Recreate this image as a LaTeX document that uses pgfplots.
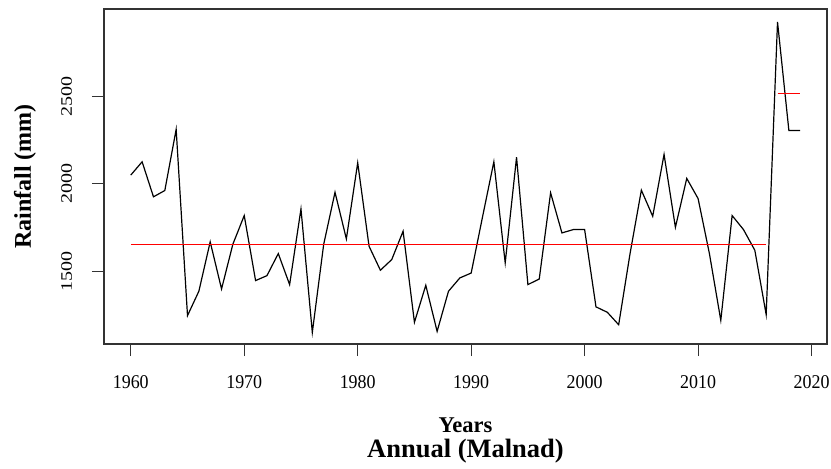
\documentclass[border=0pt]{standalone}
\usepackage{fontspec}
\setmainfont{Liberation Serif}
\usepackage{graphicx}
\usepackage{pgfplots}
\pgfplotsset{compat=1.18}
\pgfplotstableread{
year rain
1960 2049
1961 2125
1962 1925
1963 1961
1964 2310
1965 1247
1966 1386
1967 1668
1968 1399
1969 1655
1970 1818
1971 1447
1972 1475
1973 1601
1974 1424
1975 1856
1976 1151
1977 1653
1978 1951
1979 1685
1980 2119
1981 1643
1982 1506
1983 1567
1984 1729
1985 1209
1986 1420
1987 1157
1988 1386
1989 1462
1990 1490
1991 1810
1992 2125
1993 1548
1994 2151
1995 1424
1996 1456
1997 1948
1998 1719
1999 1738
2000 1738
2001 1297
2002 1266
2003 1195
2004 1600
2005 1963
2006 1814
2007 2167
2008 1751
2009 2030
2010 1915
2011 1600
2012 1220
2013 1818
2014 1738
2015 1620
2016 1253
2017 2923
2018 2304
2019 2304
}\raindata
\begin{document}
\begin{tikzpicture}
\useasboundingbox (-104pt,-125pt) rectangle (727pt,344pt);
\begin{axis}[name=ax, at={(0,0)}, anchor=south west, scale only axis,
  width=723pt, height=335pt,
  xmin=1957.64, xmax=2021.36, ymin=1085, ymax=2997,
  xtick={1960,1970,...,2020}, ytick={1500,2000,2500},
  scaled ticks=false,
  axis line style={line width=1.1pt, color=black!80},
  tick style={line width=1.1pt, color=black!80},
  tick align=outside, major tick length=12pt,
  xtick pos=bottom, ytick pos=left,
  xticklabel={\scalebox{0.92}[1]{\pgfmathprintnumber[assume math mode=true,1000 sep={},fixed,precision=0]{\tick}}},
  yticklabel={\scalebox{1}[0.8]{\pgfmathprintnumber[assume math mode=true,1000 sep={},fixed,precision=0]{\tick}}},
  xticklabel style={font=\fontsize{19.5}{20}\selectfont, anchor=base, yshift=-32pt, text=black},
  yticklabel style={font=\fontsize{20}{21}\selectfont, xshift=-20pt, rotate=90, anchor=base, text=black},
]
\addplot[black, line width=1.2pt, no markers] table[x=year, y=rain] {\raindata};
\addplot[red, line width=1.2pt, no markers] coordinates {(1960,1651) (2016,1651)};
\addplot[red, line width=1.4pt, no markers] coordinates {(2017,2515) (2019,2515)};
\end{axis}
\node[rotate=90, anchor=base, inner sep=0pt, font=\fontsize{24}{25}\bfseries] at (-73pt,167.5pt) {Rainfall (mm)};
\node[anchor=base, inner sep=0pt, font=\fontsize{22.5}{24}\bfseries] at (361.5pt,-88pt) {Years};
\node[anchor=base, inner sep=0pt, font=\fontsize{26.5}{28}\bfseries] at (361.5pt,-113pt) {Annual (Malnad)};
\end{tikzpicture}
\end{document}
